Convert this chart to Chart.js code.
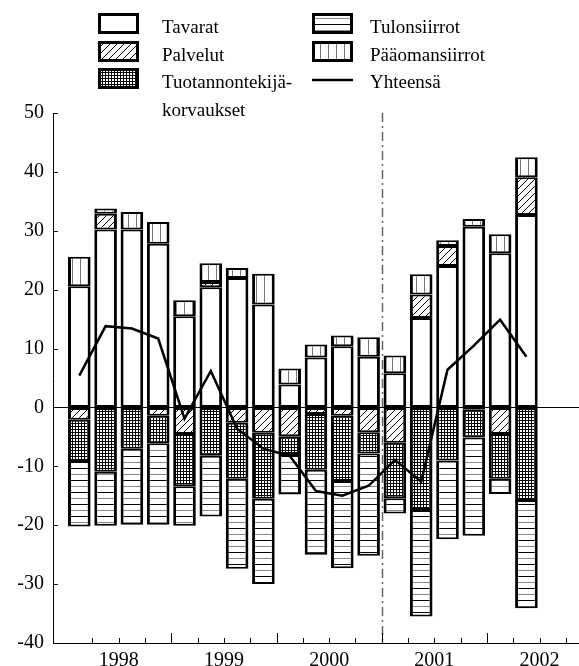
<!DOCTYPE html>
<html>
<head>
<meta charset="utf-8">
<script src="https://cdn.jsdelivr.net/npm/chart.js@4.4.1/dist/chart.umd.min.js"></script>
<style>
  html, body { margin: 0; padding: 0; background: #fff; }
  canvas { display: block; }
</style>
</head>
<body>
<canvas id="bopChart" width="579" height="666"></canvas>
<script>
// quarterly data, 1998Q1 - 2002Q2
const quarters = ['1998Q1', '1998Q2', '1998Q3', '1998Q4', '1999Q1', '1999Q2', '1999Q3', '1999Q4',
  '2000Q1', '2000Q2', '2000Q3', '2000Q4', '2001Q1', '2001Q2', '2001Q3', '2001Q4', '2002Q1', '2002Q2'];
const yearLabels = ['1998', '1999', '2000', '2001', '2002'];
const yTicks = [50, 40, 30, 20, 10, 0, -10, -20, -30, -40];

const tavarat = [20.6, 30.2, 30.2, 27.8, 15.5, 20.4, 22.0, 17.5, 3.9, 8.5, 10.4, 8.6, 5.8, 15.2, 24.0, 30.7, 26.2, 32.7];
const palvelut = [-2.1, 2.7, 0, -1.4, -4.5, 0.9, -2.6, -4.3, -4.9, -1.1, -1.4, -4.2, -6.0, 4.0, 3.4, -0.4, -4.5, 6.4];
const tuotannontekijat = [-7.0, -10.9, -7.0, -4.7, -8.9, -8.2, -9.5, -11.2, -3.0, -9.5, -11.1, -3.6, -9.4, -17.4, -9.0, -4.7, -7.6, -15.7];
const tulonsiirrot = [-11.1, -9.2, -12.9, -13.8, -6.7, -10.3, -15.3, -14.5, -6.9, -14.4, -14.8, -17.4, -2.6, -18.1, -13.4, -16.7, -2.6, -18.4];
const paaomansiirrot = [5.0, 0.9, 3.0, 3.7, 2.7, 3.2, 1.7, 5.2, 2.7, 2.2, 1.8, 3.3, 3.0, 3.4, 1.0, 1.3, 3.2, 3.4];
const yhteensa = [5.4, 13.8, 13.4, 11.7, -1.9, 6.2, -3.6, -7.0, -8.2, -14.2, -15.0, -13.3, -8.9, -12.6, 6.4, 10.5, 14.9, 8.6];

const dividerAt = 12;   // 2001 starts here (dash-dot line)
const SERIF = '"Liberation Serif", "Times New Roman", serif';

const canvas = document.getElementById('bopChart');
const ctx = canvas.getContext('2d');

// fill patterns
function makePattern(w, h, draw) {
    const c = document.createElement('canvas');
    c.width = w;
    c.height = h;
    const g = c.getContext('2d');
    g.fillStyle = '#fff';
    g.fillRect(0, 0, w, h);
    draw(g);
    return ctx.createPattern(c, 'repeat');
}

const plainFill = '#fff';
const hatchFill = makePattern(7, 7, g => {
    g.strokeStyle = '#000';
    g.lineWidth = 1;
    g.beginPath();
    g.moveTo(0, 7); g.lineTo(7, 0);
    g.moveTo(-1, 1); g.lineTo(1, -1);
    g.moveTo(6, 8); g.lineTo(8, 6);
    g.stroke();
});
const gridFill = makePattern(3, 3, g => {
    g.fillStyle = '#000';
    g.fillRect(0, 0, 3, 1);
    g.fillRect(0, 0, 1, 3);
});
const hLineFill = makePattern(4, 12, g => {
    g.fillStyle = '#000';
    g.fillRect(0, 0, 4, 1);
    g.fillStyle = '#888';
    g.fillRect(0, 6, 4, 1);
});
const vLineFill = makePattern(8, 4, g => {
    g.fillStyle = '#777';
    g.fillRect(0, 0, 1, 4);
});

const toPoints = arr => arr.map((v, i) => ({ x: i + 0.5, y: v }));

function barSet(label, values, fill) {
    return {
        type: 'bar',
        label: label,
        data: toPoints(values),
        backgroundColor: fill,
        borderColor: '#000',
        borderWidth: { top: 2, bottom: 2, left: 3, right: 3 },
        borderSkipped: false,
        stack: 'bop',
        order: 1,
        categoryPercentage: 1,
        barPercentage: 0.86
    };
}

const legendItems = [
    { col: 0, row: 0, fill: plainFill, lines: ['Tavarat'] },
    { col: 0, row: 1, fill: hatchFill, lines: ['Palvelut'] },
    { col: 0, row: 2, fill: gridFill, lines: ['Tuotannontekijä-', 'korvaukset'] },
    { col: 1, row: 0, fill: hLineFill, lines: ['Tulonsiirrot'] },
    { col: 1, row: 1, fill: vLineFill, lines: ['Pääomansiirrot'] },
    { col: 1, row: 2, fill: null, lines: ['Yhteensä'] }
];

const decorPlugin = {
    id: 'decor',
    beforeDatasetsDraw(chart) {
        const { ctx, chartArea: a, scales: { x, y } } = chart;
        ctx.save();
        // zero line
        const y0 = Math.round(y.getPixelForValue(0)) + 0.5;
        ctx.strokeStyle = '#000';
        ctx.lineWidth = 1;
        ctx.beginPath();
        ctx.moveTo(a.left, y0);
        ctx.lineTo(a.right, y0);
        ctx.stroke();
        // dash-dot divider
        const xd = Math.round(x.getPixelForValue(dividerAt)) + 0.5;
        ctx.strokeStyle = '#666';
        ctx.lineWidth = 1.5;
        ctx.setLineDash([9, 4, 2, 4]);
        ctx.beginPath();
        ctx.moveTo(xd, a.top);
        ctx.lineTo(xd, a.bottom);
        ctx.stroke();
        ctx.restore();
    },
    afterDraw(chart) {
        const { ctx, chartArea: a, scales: { x, y } } = chart;
        ctx.save();
        ctx.strokeStyle = '#000';
        ctx.lineWidth = 1;

        // inward tick marks
        ctx.beginPath();
        for (let i = 1; i <= quarters.length + 1; i++) {
            const px = Math.round(x.getPixelForValue(i)) + 0.5;
            const len = i % 4 === 0 ? 10 : 5;
            ctx.moveTo(px, a.bottom);
            ctx.lineTo(px, a.bottom - len);
        }
        yTicks.forEach(v => {
            const py = Math.round(y.getPixelForValue(v)) + 0.5;
            ctx.moveTo(a.left, py);
            ctx.lineTo(a.left + 5, py);
        });
        ctx.stroke();

        // legend
        const colBox = [98, 312];
        const colText = [162, 370];
        const rowTop = [13, 41, 68];
        ctx.font = '19px ' + SERIF;
        ctx.fillStyle = '#000';
        ctx.textBaseline = 'alphabetic';
        legendItems.forEach(it => {
            const bx = colBox[it.col];
            const by = rowTop[it.row];
            if (it.fill) {
                ctx.fillStyle = it.fill;
                ctx.fillRect(bx, by, 41, 21);
                ctx.lineWidth = 3;
                ctx.strokeStyle = '#000';
                ctx.strokeRect(bx + 1.5, by + 1.5, 38, 18);
            } else {
                ctx.lineWidth = 2.5;
                ctx.strokeStyle = '#000';
                ctx.beginPath();
                ctx.moveTo(bx, by + 12);
                ctx.lineTo(bx + 41, by + 12);
                ctx.stroke();
            }
            ctx.fillStyle = '#000';
            it.lines.forEach((t, k) => {
                ctx.fillText(t, colText[it.col], by + 20 + k * 27.5);
            });
        });
        ctx.restore();
    }
};

new Chart(ctx, {
    data: {
        datasets: [
            barSet('Tavarat', tavarat, plainFill),
            barSet('Palvelut', palvelut, hatchFill),
            barSet('Tuotannontekijäkorvaukset', tuotannontekijat, gridFill),
            barSet('Tulonsiirrot', tulonsiirrot, hLineFill),
            barSet('Pääomansiirrot', paaomansiirrot, vLineFill),
            {
                type: 'line',
                label: 'Yhteensä',
                data: toPoints(yhteensa),
                borderColor: '#000',
                borderWidth: 2.5,
                pointRadius: 0,
                tension: 0,
                stack: 'total',
                order: 0
            }
        ]
    },
    plugins: [decorPlugin],
    options: {
        responsive: false,
        animation: false,
        layout: { padding: { top: 113, left: 0, right: 0, bottom: 0 } },
        plugins: {
            legend: { display: false },
            tooltip: { enabled: false }
        },
        scales: {
            x: {
                type: 'linear',
                min: 0,
                max: quarters.length + 1,
                stacked: true,
                grid: { display: true, drawOnChartArea: false, drawTicks: false },
                border: { display: true, color: '#000', width: 1 },
                ticks: {
                    stepSize: 1,
                    autoSkip: false,
                    maxRotation: 0,
                    padding: 6,
                    color: '#000',
                    font: { family: SERIF, size: 20 },
                    callback: v => (v % 4 === 2 ? yearLabels[(v - 2) / 4] : '')
                },
                afterFit: s => { s.height = 23; }
            },
            y: {
                min: -40,
                max: 50,
                stacked: true,
                grid: { display: true, drawOnChartArea: false, drawTicks: false },
                border: { display: true, color: '#000', width: 1 },
                ticks: {
                    stepSize: 10,
                    padding: 9,
                    color: '#000',
                    font: { family: SERIF, size: 20 },
                    callback: v => String(v)
                },
                afterFit: s => { s.width = 53; }
            }
        }
    }
});
</script>
</body>
</html>
